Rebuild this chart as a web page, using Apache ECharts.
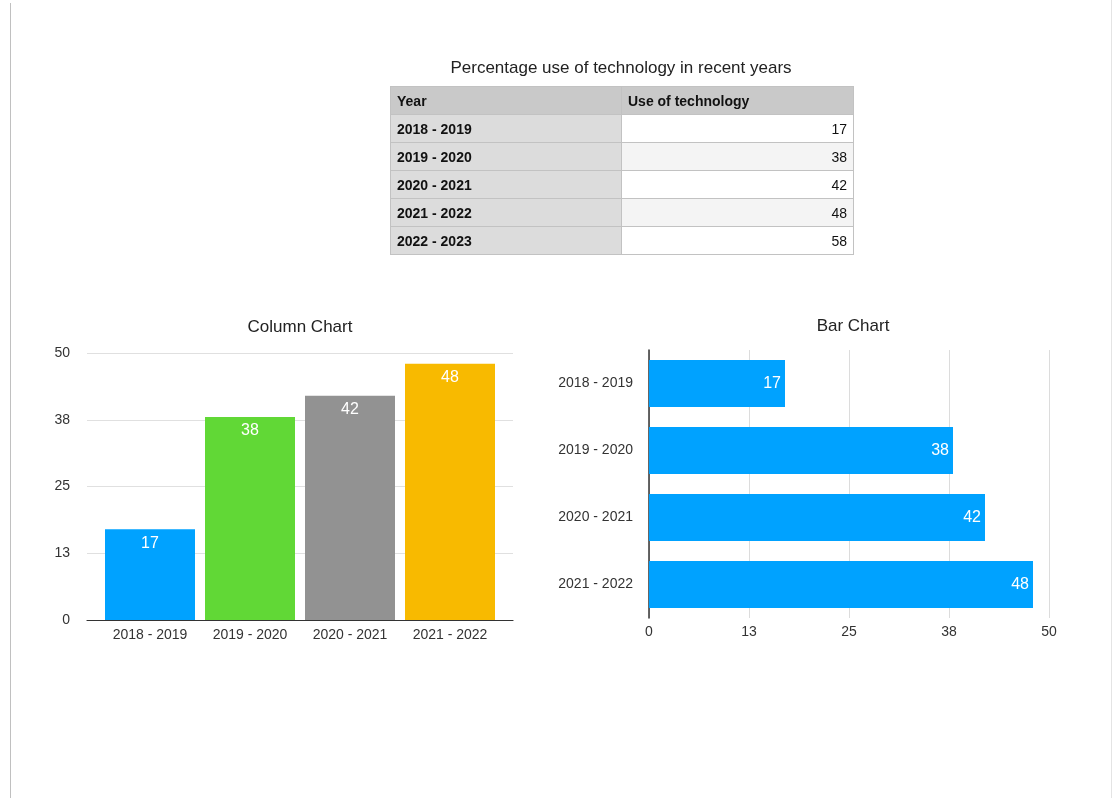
<!DOCTYPE html>
<html>
<head>
<meta charset="utf-8">
<script src="https://cdn.jsdelivr.net/npm/echarts@6/dist/echarts.min.js"></script>
<style>
  html, body { margin: 0; padding: 0; background: #ffffff; }
  body { width: 1114px; height: 798px; position: relative; overflow: hidden; font-family: 'Liberation Sans', Arial, Helvetica, sans-serif; }
  #chart { position: absolute; left: 0; top: 0; width: 1114px; height: 798px; }
  #edgeL { position: absolute; left: 10px; top: 3px; width: 1px; height: 795px; background: #c0c0c0; }
  #edgeR { position: absolute; left: 1111px; top: 0; width: 1px; height: 798px; background: #e4e4e4; }
  #tblTitle { position: absolute; left: 421px; width: 400px; top: 58px; text-align: center; font-size: 17px; color: #222; }
  #tbl { position: absolute; left: 390px; top: 86px; border-collapse: collapse; font-size: 14px; color: #111; }
  #tbl td, #tbl th { height: 28px; padding: 0 6px; border: 1px solid #c2c2c2; box-sizing: border-box; }
  #tbl th { background: #c9c9c9; font-weight: bold; text-align: left; }
  #tbl td.y { background: #dcdcdc; font-weight: bold; width: 231px; }
  #tbl td.v { background: #ffffff; text-align: right; width: 232px; }
  #tbl tr.alt td.v { background: #f4f4f4; }
</style>
</head>
<body>
<div id="chart"></div>
<div id="edgeL"></div>
<div id="edgeR"></div>
<div id="tblTitle"></div>
<table id="tbl"></table>
<script>
// ---- data ----
var tableTitle = 'Percentage use of technology in recent years';
var tableHeaders = ['Year', 'Use of technology'];
var tableYears = ['2018 - 2019', '2019 - 2020', '2020 - 2021', '2021 - 2022', '2022 - 2023'];
var tableUse = [17, 38, 42, 48, 58];

var categories = ['2018 - 2019', '2019 - 2020', '2020 - 2021', '2021 - 2022'];
var values = [17, 38, 42, 48];
var columnColors = ['#00a2ff', '#61d836', '#929292', '#f8ba00'];
var barColor = '#00a2ff';
var tickLabels = ['0', '13', '25', '38', '50'];
var axisMax = 50;
var axisStep = 12.5;

// ---- table ----
document.getElementById('tblTitle').textContent = tableTitle;
var tbl = document.getElementById('tbl');
var hr = document.createElement('tr');
tableHeaders.forEach(function (h) {
  var th = document.createElement('th');
  th.textContent = h;
  hr.appendChild(th);
});
tbl.appendChild(hr);
tableYears.forEach(function (y, i) {
  var tr = document.createElement('tr');
  if (i % 2 === 1) tr.className = 'alt';
  var a = document.createElement('td'); a.className = 'y'; a.textContent = y;
  var b = document.createElement('td'); b.className = 'v'; b.textContent = tableUse[i];
  tr.appendChild(a); tr.appendChild(b);
  tbl.appendChild(tr);
});

// ---- charts ----
var font = "'Liberation Sans', Arial, Helvetica, sans-serif";
function tickFmt(v) { return tickLabels[Math.round(v / axisStep)]; }

var chart = echarts.init(document.getElementById('chart'), null, { renderer: 'canvas' });
chart.setOption({
  animation: false,
  textStyle: { fontFamily: font },
  graphic: [
    { type: 'text', x: 300, y: 327, style: { text: 'Column Chart', font: '17px ' + font, fill: '#222', align: 'center', verticalAlign: 'middle' } },
    { type: 'text', x: 853, y: 326, style: { text: 'Bar Chart', font: '17px ' + font, fill: '#222', align: 'center', verticalAlign: 'middle' } }
  ],
  grid: [
    { left: 87, width: 426, top: 353, height: 267 },
    { left: 100, width: 400, top: 353, height: 267 },
    { left: 649, width: 400, top: 350, height: 268 }
  ],
  xAxis: [
    { gridIndex: 0, type: 'category', data: categories,
      axisLine: { show: true, lineStyle: { color: '#333', width: 1.2 } },
      axisTick: { show: false }, axisLabel: { show: false }, splitLine: { show: false } },
    { gridIndex: 1, type: 'category', data: categories,
      axisLine: { show: false }, axisTick: { show: false },
      axisLabel: { color: '#333', fontSize: 14, margin: 8 } },
    { gridIndex: 2, type: 'value', min: 0, max: axisMax, interval: axisStep,
      axisLine: { show: false }, axisTick: { show: false },
      axisLabel: { color: '#333', fontSize: 14, margin: 7, formatter: tickFmt },
      splitLine: { show: true, lineStyle: { color: '#dcdcdc', width: 1 } } }
  ],
  yAxis: [
    { gridIndex: 0, type: 'value', min: 0, max: axisMax, interval: axisStep,
      axisLine: { show: false }, axisTick: { show: false },
      axisLabel: { color: '#333', fontSize: 14, margin: 17, formatter: tickFmt },
      splitLine: { show: true, lineStyle: { color: '#e0e0e0', width: 1 } } },
    { gridIndex: 1, type: 'value', min: 0, max: axisMax, show: false },
    { gridIndex: 2, type: 'category', data: categories, inverse: true,
      axisLine: { show: true, lineStyle: { color: '#333', width: 1.5 } },
      axisTick: { show: false },
      axisLabel: { color: '#333', fontSize: 14, margin: 16 } }
  ],
  series: [
    { type: 'bar', xAxisIndex: 1, yAxisIndex: 1, barCategoryGap: '10%',
      data: values.map(function (v, i) { return { value: v, itemStyle: { color: columnColors[i] } }; }),
      label: { show: true, position: 'insideTop', distance: 6, color: '#fff', fontSize: 16 } },
    { type: 'bar', xAxisIndex: 2, yAxisIndex: 2, barCategoryGap: '30%',
      data: values, itemStyle: { color: barColor },
      label: { show: true, position: 'insideRight', distance: 4, color: '#fff', fontSize: 16 } }
  ]
});
</script>
</body>
</html>
